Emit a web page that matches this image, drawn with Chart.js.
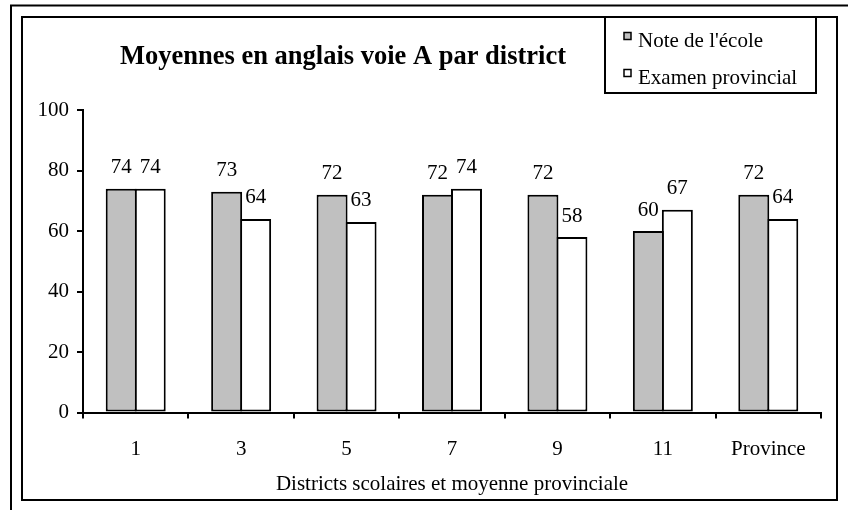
<!DOCTYPE html>
<html>
<head>
<meta charset="utf-8">
<script src="https://cdn.jsdelivr.net/npm/chart.js@4"></script>
<style>
  html, body { margin: 0; padding: 0; background: #fff; }
  #wrap { width: 848px; height: 510px; }
</style>
</head>
<body>
<div id="wrap"><canvas id="myChart" width="848" height="510"></canvas></div>
<script>
const districts = ['1', '3', '5', '7', '9', '11', 'Province']
const noteEcole = [74, 73, 72, 72, 72, 60, 72]
const examenProv = [74, 64, 63, 74, 58, 67, 64]
const yTicks = [0, 20, 40, 60, 80, 100]

const chartTitle = 'Moyennes en anglais voie A par district'
const xTitle = 'Districts scolaires et moyenne provinciale'
const serif = '"Liberation Serif", "Times New Roman", serif'

// frames, title, legend and bar values drawn on top of the chart
const decor = {
  id: 'decor',
  beforeDraw(chart) {
    const ctx = chart.ctx
    ctx.save()
    ctx.fillStyle = '#fff'
    ctx.fillRect(0, 0, chart.width, chart.height)
    ctx.strokeStyle = '#000'
    ctx.lineWidth = 2
    // outer frame
    ctx.beginPath()
    ctx.moveTo(11, 510)
    ctx.lineTo(11, 5.5)
    ctx.lineTo(848, 5.5)
    ctx.stroke()
    // inner box
    ctx.strokeRect(22, 17, 815, 483)
    // legend box
    ctx.strokeRect(605, 17, 211, 76)
    ctx.restore()
  },
  afterDraw(chart) {
    const ctx = chart.ctx
    ctx.save()
    ctx.fillStyle = '#000'
    ctx.textAlign = 'center'
    ctx.textBaseline = 'middle'
    ctx.font = 'bold 26.5px ' + serif
    ctx.fillText(chartTitle, 343, 57)

    // legend
    ctx.textAlign = 'left'
    ctx.textBaseline = 'alphabetic'
    ctx.font = '21px ' + serif
    const rows = [36, 73]
    chart.data.datasets.forEach((ds, i) => {
      const y = rows[i]
      ctx.fillStyle = ds.backgroundColor
      ctx.fillRect(624, y - 3.5, 7, 7)
      ctx.lineWidth = 1.5
      ctx.strokeStyle = '#000'
      ctx.strokeRect(624, y - 3.5, 7, 7)
      ctx.fillStyle = '#000'
      ctx.fillText(ds.label, 638, y + 10.5)
    })

    // values above bars
    ctx.textAlign = 'center'
    ctx.textBaseline = 'middle'
    ctx.font = '21px ' + serif
    chart.data.datasets.forEach((ds, i) => {
      chart.getDatasetMeta(i).data.forEach((bar, j) => {
        ctx.fillText(String(ds.data[j]), bar.x, bar.y - 21)
      })
    })
    ctx.restore()
  }
}

new Chart(document.getElementById('myChart').getContext('2d'), {
  type: 'bar',
  data: {
    labels: districts,
    datasets: [
      {
        label: "Note de l'école",
        data: noteEcole,
        backgroundColor: '#c0c0c0',
        borderColor: '#000',
        borderWidth: 2,
        borderSkipped: false
      },
      {
        label: 'Examen provincial',
        data: examenProv,
        backgroundColor: '#ffffff',
        borderColor: '#000',
        borderWidth: 2,
        borderSkipped: false
      }
    ]
  },
  options: {
    responsive: false,
    animation: false,
    devicePixelRatio: 1,
    layout: { padding: { top: 110, right: 27, left: 0, bottom: 0 } },
    categoryPercentage: 0.55,
    barPercentage: 1.069,
    plugins: {
      legend: { display: false },
      title: { display: false },
      tooltip: { enabled: false }
    },
    scales: {
      x: {
        afterFit(scale) { scale.height = 97.5 },
        grid: { display: true, drawOnChartArea: false, drawTicks: true, tickLength: 6, color: '#000', lineWidth: 2, offset: true },
        border: { display: true, color: '#000', width: 2 },
        ticks: { color: '#000', font: { family: serif, size: 21 }, padding: 18, maxRotation: 0 },
        title: { display: true, text: xTitle, color: '#000', font: { family: serif, size: 21 }, padding: { top: 6, bottom: 13 } }
      },
      y: {
        min: 0,
        max: 100,
        afterFit(scale) { scale.width = 83 },
        afterBuildTicks(scale) { scale.ticks = yTicks.map(v => ({ value: v })) },
        grid: { display: true, drawOnChartArea: false, drawTicks: true, tickLength: 6, color: '#000', lineWidth: 2 },
        border: { display: true, color: '#000', width: 2 },
        ticks: { color: '#000', font: { family: serif, size: 21 }, padding: 8 }
      }
    }
  },
  plugins: [decor]
})
</script>
</body>
</html>
